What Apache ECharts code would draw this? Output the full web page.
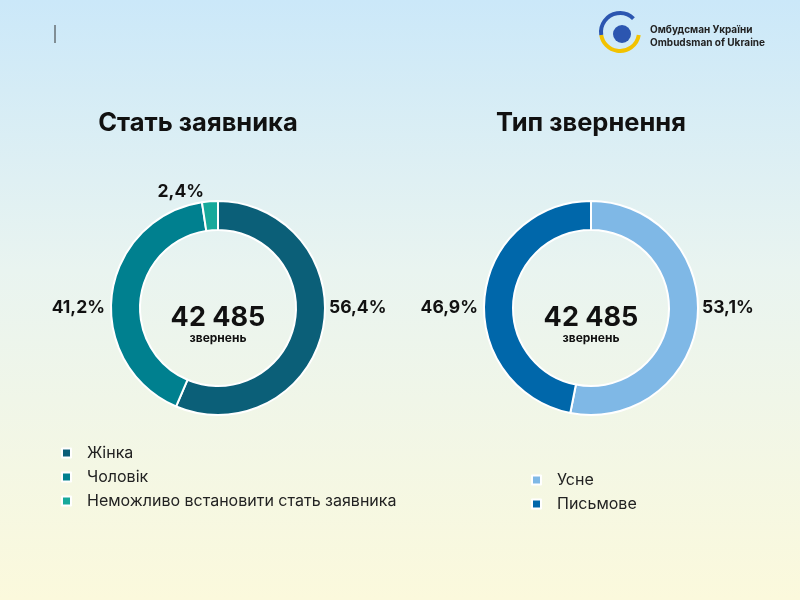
<!DOCTYPE html>
<html><head><meta charset="utf-8">
<script src="https://cdn.jsdelivr.net/npm/echarts@6/dist/echarts.min.js"></script>
<style>html,body{margin:0;padding:0}#c{width:800px;height:600px;background:linear-gradient(#cbe8f9 0%,#e9f4f0 45%,#fbf9dc 100%)}</style>
</head><body><div id="c"></div>
<script>
const genderCats=['Жінка','Чоловік','Неможливо встановити стать заявника'];
const genderVals=[56.4,41.2,2.4];
const typeCats=['Усне','Письмове'];
const typeVals=[53.1,46.9];
const total='42 485';
const f='Inter, "Noto Sans", sans-serif';
const ch=echarts.init(document.getElementById('c'));
const lab={show:true,position:'outside',overflow:'none',width:100,formatter:p=>String(p.value).replace('.',',')+'%',color:'#111',fontFamily:f,fontWeight:'bold',fontSize:17.5};
function layoutFor(cx,cy){
 return function(p){
  const r=p.labelRect, lx=r.x+r.width/2;
  if(p.dataIndex===2) return {x:cx-14,y:cy-116,align:'right',verticalAlign:'middle'};
  if(lx>cx) return {x:cx+111,y:cy,align:'left',verticalAlign:'middle'};
  return {x:cx-113,y:cy,align:'right',verticalAlign:'middle'};
 };
}
const ct={fontFamily:f,fontWeight:'bold',fontSize:27,color:'#111'};
const cs={fontFamily:f,fontWeight:'bold',fontSize:12,color:'#111'};
ch.setOption({
 backgroundColor:'transparent',
 title:[
  {text:'Стать заявника',left:198,top:110,padding:0,textAlign:'center',textStyle:{fontFamily:f,fontWeight:'bold',fontSize:25.5,color:'#111'}},
  {text:'Тип звернення',left:591,top:110,padding:0,textAlign:'center',textStyle:{fontFamily:f,fontWeight:'bold',fontSize:25.5,color:'#111'}},
  {text:total,subtext:'звернень',left:218,top:304,padding:0,textAlign:'center',itemGap:1,textStyle:ct,subtextStyle:cs},
  {text:total,subtext:'звернень',left:591,top:304,padding:0,textAlign:'center',itemGap:1,textStyle:ct,subtextStyle:cs}
 ],
 legend:[
  {data:genderCats,orient:'vertical',left:56,top:440,itemWidth:9,itemHeight:9,itemGap:8,icon:'rect',textStyle:{fontFamily:f,fontSize:16,color:'#222',padding:[0,0,0,11]}},
  {data:typeCats,orient:'vertical',left:526,top:467,itemWidth:9,itemHeight:9,itemGap:8,icon:'rect',textStyle:{fontFamily:f,fontSize:16,color:'#222',padding:[0,0,0,11]}}
 ],
 graphic:[
  {type:'line',shape:{x1:55,y1:25,x2:55,y2:43},style:{stroke:'#333',lineWidth:1}},
  {type:'arc',shape:{cx:620,cy:32,r:19,startAngle:Math.PI*0.05,endAngle:Math.PI*0.95},style:{stroke:'#f2c200',lineWidth:4,fill:null}},
  {type:'arc',shape:{cx:620,cy:32,r:19,startAngle:Math.PI*0.95,endAngle:Math.PI*1.75},style:{stroke:'#2c56b0',lineWidth:4,fill:null}},
  {type:'circle',shape:{cx:622,cy:34,r:9},style:{fill:'#2c56b0'}},
  {type:'text',left:650,top:23,style:{text:'Омбудсман України\nOmbudsman of Ukraine',font:'bold 10px '+f,fill:'#222',lineHeight:13}}
 ],
 series:[
  {type:'pie',center:[218,308],radius:[78,107],startAngle:90,clockwise:true,data:genderCats.map((n,i)=>({name:n,value:genderVals[i]})),color:['#0b5f78','#00808f','#17a99b'],itemStyle:{borderColor:'#fff',borderWidth:2},label:lab,labelLine:{show:false},labelLayout:layoutFor(218,308),emphasis:{disabled:true}},
  {type:'pie',center:[591,308],radius:[78,107],startAngle:90,clockwise:true,data:typeCats.map((n,i)=>({name:n,value:typeVals[i]})),color:['#7fb8e6','#0067aa'],itemStyle:{borderColor:'#fff',borderWidth:2},label:lab,labelLine:{show:false},labelLayout:layoutFor(591,308),emphasis:{disabled:true}}
 ]
});
</script></body></html>
